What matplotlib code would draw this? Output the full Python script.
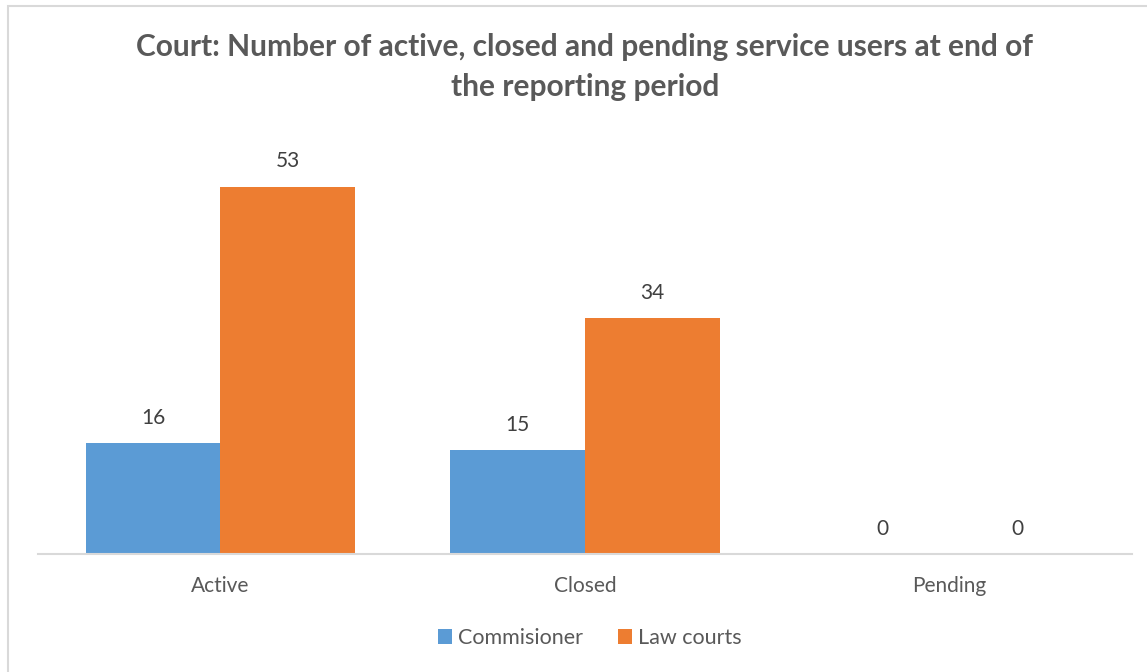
import matplotlib.pyplot as plt
import numpy as np
from matplotlib.patches import Rectangle

categories = ['Active', 'Closed', 'Pending']
series_names = ['Commisioner', 'Law courts']
commisioner = [16, 15, 0]
law_courts = [53, 34, 0]

blue = '#5B9BD5'
orange = '#ED7D31'
grey_text = '#595959'
line_grey = '#D9D9D9'

plt.rcParams['font.family'] = ['Lato', 'DejaVu Sans']

fig = plt.figure(figsize=(11.47, 6.72), dpi=100)
W, H = 1147, 672

# chart frame (only top/left edges visible in the crop)
fig.add_artist(Rectangle((8 / W, -0.1), 1.2, 1 - 6 / H + 0.1, transform=fig.transFigure,
                         fill=False, edgecolor=line_grey, lw=1.5))

ax = fig.add_axes([38 / W, 1 - 554 / H, (1132 - 38) / W, 416 / H])
x = np.arange(len(categories))
w = 0.369
b1 = ax.bar(x - w / 2, commisioner, w, color=blue, label=series_names[0])
b2 = ax.bar(x + w / 2, law_courts, w, color=orange, label=series_names[1])

ax.set_xlim(-0.5, 2.5)
ax.set_ylim(0, 60)
for s in ['top', 'right', 'left']:
    ax.spines[s].set_visible(False)
ax.spines['bottom'].set_color(line_grey)
ax.spines['bottom'].set_linewidth(1.5)
ax.set_yticks([])
ax.set_xticks(x)
ax.set_xticklabels(categories, fontsize=15, color=grey_text)
ax.tick_params(axis='x', length=0, pad=16)

for bars in (b1, b2):
    ax.bar_label(bars, padding=11, fontsize=15, color='#404040')

fig.text(585 / W, 1 - 67 / H, 'Court: Number of active, closed and pending service users at end of\nthe reporting period',
         ha='center', va='center', fontsize=21.5, fontweight='bold', color=grey_text, linespacing=1.5)

fig.legend(loc='center', bbox_to_anchor=(590 / W, 1 - 638 / H), ncol=2, frameon=False,
           fontsize=15.5, labelcolor=grey_text, handlelength=0.65, handleheight=0.65,
           handletextpad=0.3, columnspacing=1.6)

fig.savefig('out.png', dpi=100)
